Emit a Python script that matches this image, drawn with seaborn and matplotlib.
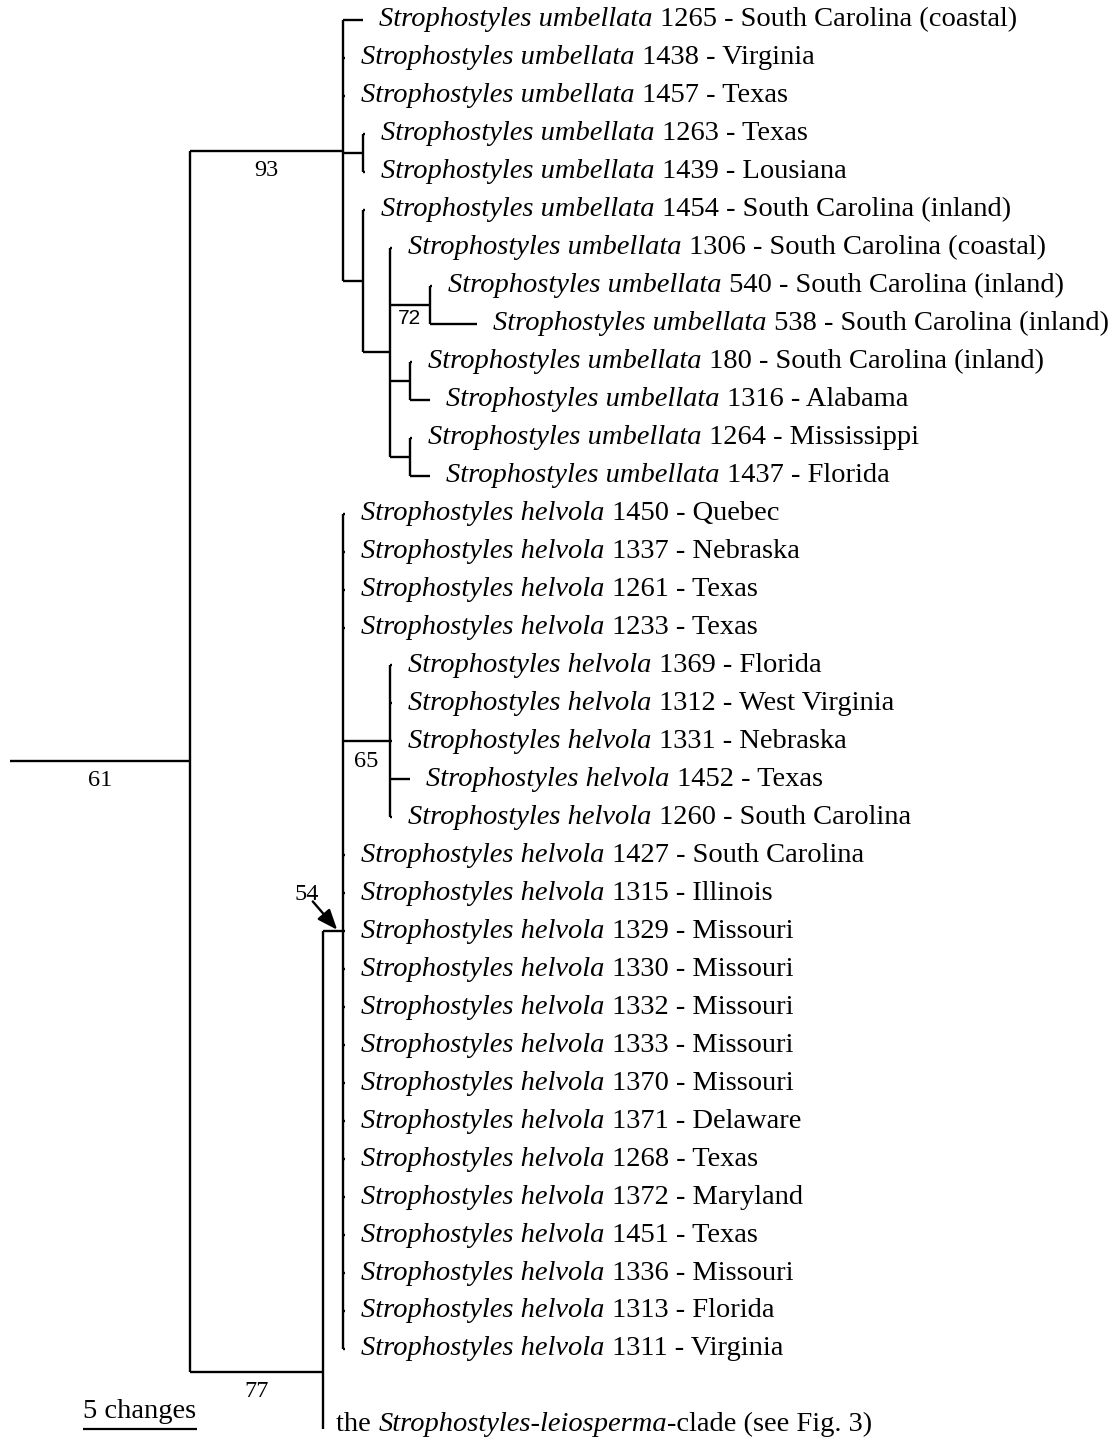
import matplotlib
matplotlib.use("Agg")
import matplotlib.pyplot as plt
import seaborn as sns
import pandas as pd

# ---- taxa (top to bottom) ----
species = ["Strophostyles umbellata"] * 13 + ["Strophostyles helvola"] * 23
specimens = ["1265", "1438", "1457", "1263", "1439", "1454", "1306", "540", "538",
             "180", "1316", "1264", "1437",
             "1450", "1337", "1261", "1233", "1369", "1312", "1331", "1452", "1260",
             "1427", "1315", "1329", "1330", "1332", "1333", "1370", "1371", "1268",
             "1372", "1451", "1336", "1313", "1311"]
localities = ["South Carolina (coastal)", "Virginia", "Texas", "Texas", "Lousiana",
              "South Carolina (inland)", "South Carolina (coastal)",
              "South Carolina (inland)", "South Carolina (inland)",
              "South Carolina (inland)", "Alabama", "Mississippi", "Florida",
              "Quebec", "Nebraska", "Texas", "Texas", "Florida", "West Virginia",
              "Nebraska", "Texas", "South Carolina", "South Carolina", "Illinois",
              "Missouri", "Missouri", "Missouri", "Missouri", "Missouri", "Delaware",
              "Texas", "Maryland", "Texas", "Missouri", "Florida", "Virginia"]

# ---- topology with branch lengths (changes) and bootstrap support ----
tree_newick = (
    "((1265:0.88,1438:0,1457:0,(1263:0,1439:0):0.88,"
    "(1454:0,(1306:0,(540:0,538:2.06)72:1.75,(180:0,1316:0.88):0.88,"
    "(1264:0,1437:0.88):0.88):1.18):0.88)93:6.71,"
    "((1450:0,1337:0,1261:0,1233:0,(1369:0,1312:0,1331:0,1452:0.88,1260:0)65:2.06,"
    "1427:0,1315:0,1329:0,1330:0,1332:0,1333:0,1370:0,1371:0,1268:0,1372:0,"
    "1451:0,1336:0,1313:0,1311:0)54:0.88,LEIO:0)77:5.83)61:7.89;"
)
sans_support = ["72"]
arrow_support = ["54"]

# collapsed clade: label row and the full row span of its hidden subtree
collapsed_name = "LEIO"
collapsed_label = ["the ", "Strophostyles-leiosperma", "-clade (see Fig. 3)"]
collapsed_rows = [37.0, 57.4]

scale_changes = 5
scale_text = "5 changes"


def parse_newick(s):
    pos = 0

    def node():
        nonlocal pos
        children = []
        if s[pos] == "(":
            pos += 1
            while True:
                children.append(node())
                if s[pos] == ",":
                    pos += 1
                    continue
                pos += 1
                break
        start = pos
        while s[pos] not in ":,);":
            pos += 1
        name = s[start:pos]
        length = 0.0
        if s[pos] == ":":
            pos += 1
            start = pos
            while s[pos] not in ",);":
                pos += 1
            length = float(s[start:pos])
        return {"name": name, "len": length, "children": children}

    return node()


root = parse_newick(tree_newick)

# ---- layout: leaves on rows, internal nodes at midpoint of first/last child ----
leaf_row = {sp: i for i, sp in enumerate(specimens)}


def layout(nd, x_parent):
    nd["x0"] = x_parent
    nd["x"] = x_parent + nd["len"]
    if not nd["children"]:
        if nd["name"] == collapsed_name:
            nd["y"] = sum(collapsed_rows) / 2
            nd["ydraw"] = collapsed_rows[0] + 0.1
        else:
            nd["y"] = leaf_row[nd["name"]]
            nd["ydraw"] = nd["y"]
        return
    for c in nd["children"]:
        layout(c, nd["x"])
    nd["y"] = (nd["children"][0]["y"] + nd["children"][-1]["y"]) / 2
    nd["ydraw"] = nd["y"]


layout(root, 0.0)

PX = 22.8          # pixels per change
ROW = 37.97        # pixels per row
ZERO_TICK = 0.09   # visible stub for zero-length terminal branches

segs = []
nodes = []


def collect(nd):
    nodes.append(nd)
    x1 = nd["x"]
    if not nd["children"] and nd["len"] == 0 and nd["name"] != collapsed_name:
        x1 = nd["x0"] + ZERO_TICK
    if nd["name"] != collapsed_name:
        segs.append((nd["x0"], x1, nd["ydraw"], nd["ydraw"]))
    if nd["children"]:
        ys = [c["ydraw"] for c in nd["children"]]
        segs.append((nd["x"], nd["x"], min(ys), max(ys)))
        for c in nd["children"]:
            collect(c)


collect(root)

rows = []
for i, (xa, xb, ya, yb) in enumerate(segs):
    rows.append({"seg": i, "x": xa, "y": ya, "o": 0})
    rows.append({"seg": i, "x": xb, "y": yb, "o": 1})
df = pd.DataFrame(rows)

sns.set_theme(style="white")
plt.rcParams["font.family"] = ["Liberation Serif", "DejaVu Serif"]
plt.rcParams["text.color"] = "black"

fig = plt.figure(figsize=(11.13, 14.46), dpi=100)
ax = fig.add_axes([0, 0, 1, 1])
ax.set_xlim(-10 / PX, 1103 / PX)
ax.set_ylim((1446 - 20) / ROW, -20 / ROW)
ax.axis("off")

sns.lineplot(data=df, x="x", y="y", units="seg", estimator=None, sort=False,
             color="black", linewidth=1.7, ax=ax, legend=False)
for ln in ax.lines:
    ln.set_solid_capstyle("butt")

FS = 20.5
GAP = 0.72


def chained_text(x, y, parts, italics):
    prev = None
    for part, it in zip(parts, italics):
        style = "italic" if it else "normal"
        if prev is None:
            prev = ax.text(x, y, part, fontsize=FS, style=style, va="center",
                           ha="left", color="black")
        else:
            prev = ax.annotate(part, xy=(1, 0), xycoords=prev, va="bottom",
                               ha="left", fontsize=FS, style=style, color="black")


tips = {nd["name"]: nd for nd in nodes if not nd["children"]}
for sp, num, loc in zip(species, specimens, localities):
    nd = tips[num]
    tip_x = max(nd["x"], nd["x0"] + ZERO_TICK)
    chained_text(tip_x + GAP, nd["y"], [sp, f" {num} - {loc}"], [True, False])

leio = tips[collapsed_name]
chained_text(leio["x"] + 0.6, collapsed_rows[0], collapsed_label, [False, True, False])

# ---- support values ----
SUP_FS = 17.5
for nd in nodes:
    if not nd["children"] or not nd["name"]:
        continue
    xm = (nd["x0"] + nd["x"]) / 2
    if nd["name"] in arrow_support:
        ax.annotate(nd["name"], xy=(nd["x"] - 0.25, nd["y"] - 0.04),
                    xytext=(nd["x"] - 1.6, nd["y"] - 0.98),
                    fontsize=SUP_FS, ha="center", va="center", color="black",
                    arrowprops=dict(arrowstyle="-|>,head_length=0.7,head_width=0.28",
                                    color="black", lw=1.7, patchA=None,
                                    shrinkA=7, shrinkB=0))
    elif nd["name"] in sans_support:
        ax.text(xm, nd["y"] + 0.36, nd["name"], fontsize=15, ha="center",
                va="center", color="black", family=["Liberation Sans", "DejaVu Sans"])
    else:
        ax.text(xm, nd["y"] + 0.52, nd["name"], fontsize=SUP_FS, ha="center",
                va="center", color="black")

# ---- scale bar ----
bar_x0 = 73 / PX
bar_y = (1429 - 20) / ROW
ax.plot([bar_x0, bar_x0 + scale_changes], [bar_y, bar_y], color="black", lw=1.6,
        solid_capstyle="butt")
ax.text(bar_x0 + scale_changes / 2, bar_y - 0.12, scale_text, fontsize=20.5,
        ha="center", va="bottom", color="black")

fig.savefig("out.png", dpi=100, facecolor="white")
